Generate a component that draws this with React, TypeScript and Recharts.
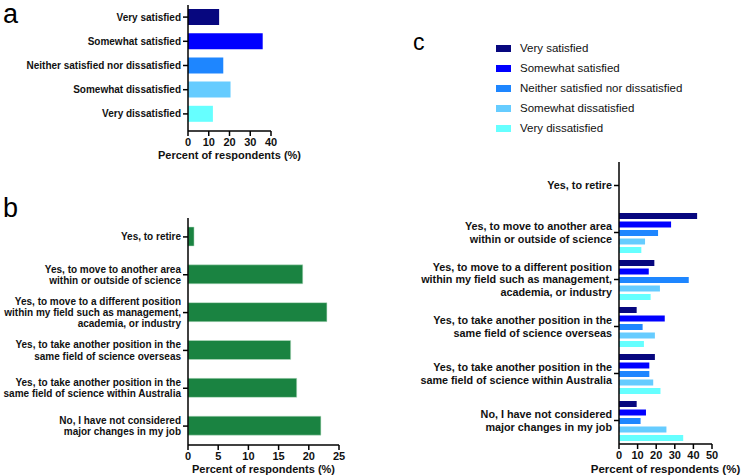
import { BarChart, Bar, XAxis, YAxis, Cell } from 'recharts'

// panel a: overall satisfaction
const satLabels = ['Very satisfied', 'Somewhat satisfied', 'Neither satisfied nor dissatisfied', 'Somewhat dissatisfied', 'Very dissatisfied']
const satColors = ['#07077f', '#0000ff', '#1e86ff', '#66ccff', '#66ffff']
const satValues = [15, 36, 17, 20.5, 12]

// panel b: considered career changes
const changeLabels = [
    'Yes, to retire',
    'Yes, to move to another area\nwithin or outside of science',
    'Yes, to move to a different position\nwithin my field such as management,\nacademia, or industry',
    'Yes, to take another position in the\nsame field of science overseas',
    'Yes, to take another position in the\nsame field of science within Australia',
    'No, I have not considered\nmajor changes in my job',
]
const changeValues = [1, 19, 23, 17, 18, 22]

// panel c: changes split by satisfaction
const verySatisfied = [0, 42, 19, 9.5, 19.3, 9.5]
const somewhatSatisfied = [0, 28, 16, 24.6, 16.3, 14.5]
const neither = [0, 21, 37.5, 12.7, 16.3, 11.6]
const somewhatDissatisfied = [0, 14, 22, 19.3, 18.4, 25.5]
const veryDissatisfied = [0, 12, 17, 13.4, 22.3, 34.5]
const splitSeries = [verySatisfied, somewhatSatisfied, neither, somewhatDissatisfied, veryDissatisfied]

const ticksA = [0, 10, 20, 30, 40]
const ticksB = [0, 5, 10, 15, 20, 25]
const ticksC = [0, 10, 20, 30, 40, 50]

const FONT = '"Liberation Sans", Arial, sans-serif'
const xTitle = 'Percent of respondents (%)'

const dataA = satLabels.map((name, i) => ({ name, value: satValues[i] }))
const dataB = changeLabels.map((name, i) => ({ name, value: changeValues[i] }))
const dataC = changeLabels.map((name, i) => {
    const row: any = { name }
    splitSeries.forEach((s, k) => { row['s' + k] = s[i] })
    return row
})

const MultiTick = ({ x, y, payload, fontSize, lineHeight }: any) => {
    const lines = String(payload.value).split('\n')
    return (
        <text x={x} y={y} textAnchor="end" fontSize={fontSize} fontWeight="bold" fill="#111" fontFamily={FONT}>
            {lines.map((l, i) => (
                <tspan key={i} x={x} y={y + (i - (lines.length - 1) / 2) * lineHeight} dy="0.35em">{l}</tspan>
            ))}
        </text>
    )
}

const axisProps = {
    stroke: '#000',
    strokeWidth: 1.5,
    tickSize: 5,
    tick: { fontSize: 11, fontWeight: 'bold', fill: '#111', fontFamily: FONT },
}

const titleLabel = { value: xTitle, position: 'insideBottom', offset: 3, fontSize: 11, fontWeight: 'bold', fill: '#111', fontFamily: FONT }

const Letter = ({ ch, x, y, size }: any) => (
    <div style={{ position: 'absolute', left: x, top: y, fontSize: size, fontFamily: FONT, lineHeight: 1, color: '#000' }}>{ch}</div>
)

const App = () => {
    return (
        <div style={{ position: 'absolute', left: 0, top: 0, width: 742, height: 476, background: '#fff', overflow: 'hidden' }}>
            <Letter ch="a" x={3} y={1} size={27} />
            <Letter ch="b" x={3} y={195} size={27} />
            <Letter ch="c" x={413} y={31} size={23} />

            <div style={{ position: 'absolute', left: 0, top: 0 }}>
                <BarChart width={320} height={162} data={dataA} layout="vertical" margin={{ top: 5, right: 49, bottom: 0, left: 0 }}>
                    <XAxis type="number" domain={[0, 40]} ticks={ticksA} height={31} {...axisProps} label={titleLabel} />
                    <YAxis type="category" dataKey="name" width={188} interval={0} padding={{ top: 0, bottom: 5 }} {...axisProps}
                        tick={(p: any) => <MultiTick {...p} fontSize={10} lineHeight={11.3} />} />
                    <Bar dataKey="value" barSize={16} isAnimationActive={false}>
                        {dataA.map((d, i) => <Cell key={d.name} fill={satColors[i]} />)}
                    </Bar>
                </BarChart>
            </div>

            <div style={{ position: 'absolute', left: 0, top: 200 }}>
                <BarChart width={370} height={276} data={dataB} layout="vertical" margin={{ top: 18, right: 31, bottom: 0, left: 0 }}>
                    <XAxis type="number" domain={[0, 25]} ticks={ticksB} height={31} {...axisProps} label={titleLabel} />
                    <YAxis type="category" dataKey="name" width={188} interval={0} {...axisProps}
                        tick={(p: any) => <MultiTick {...p} fontSize={10} lineHeight={11.3} />} />
                    <Bar dataKey="value" barSize={19} fill="#1a8341" stroke="#bfe0c8" strokeWidth={0.5} isAnimationActive={false} />
                </BarChart>
            </div>

            <div style={{ position: 'absolute', left: 496, top: 38 }}>
                {satLabels.map((s, i) => (
                    <div key={s} style={{ display: 'flex', alignItems: 'center', height: 20, fontFamily: FONT, fontSize: 11.5, color: '#111' }}>
                        <span style={{ display: 'inline-block', width: 15, height: 7, background: satColors[i], marginRight: 9 }} />
                        {s}
                    </div>
                ))}
            </div>

            <div style={{ position: 'absolute', left: 400, top: 150 }}>
                <BarChart width={342} height={326} data={dataC} layout="vertical" barCategoryGap={4} barGap={2.5}
                    margin={{ top: 12, right: 30, bottom: 0, left: 0 }}>
                    <XAxis type="number" domain={[0, 50]} ticks={ticksC} height={32} {...axisProps} label={{ ...titleLabel, fontSize: 11.5 }} />
                    <YAxis type="category" dataKey="name" width={219} interval={0} {...axisProps}
                        tick={(p: any) => <MultiTick {...p} fontSize={10.8} lineHeight={12.5} />} />
                    {splitSeries.map((_, k) => (
                        <Bar key={k} dataKey={'s' + k} name={satLabels[k]} fill={satColors[k]} isAnimationActive={false} />
                    ))}
                </BarChart>
            </div>
        </div>
    )
}

export default App
